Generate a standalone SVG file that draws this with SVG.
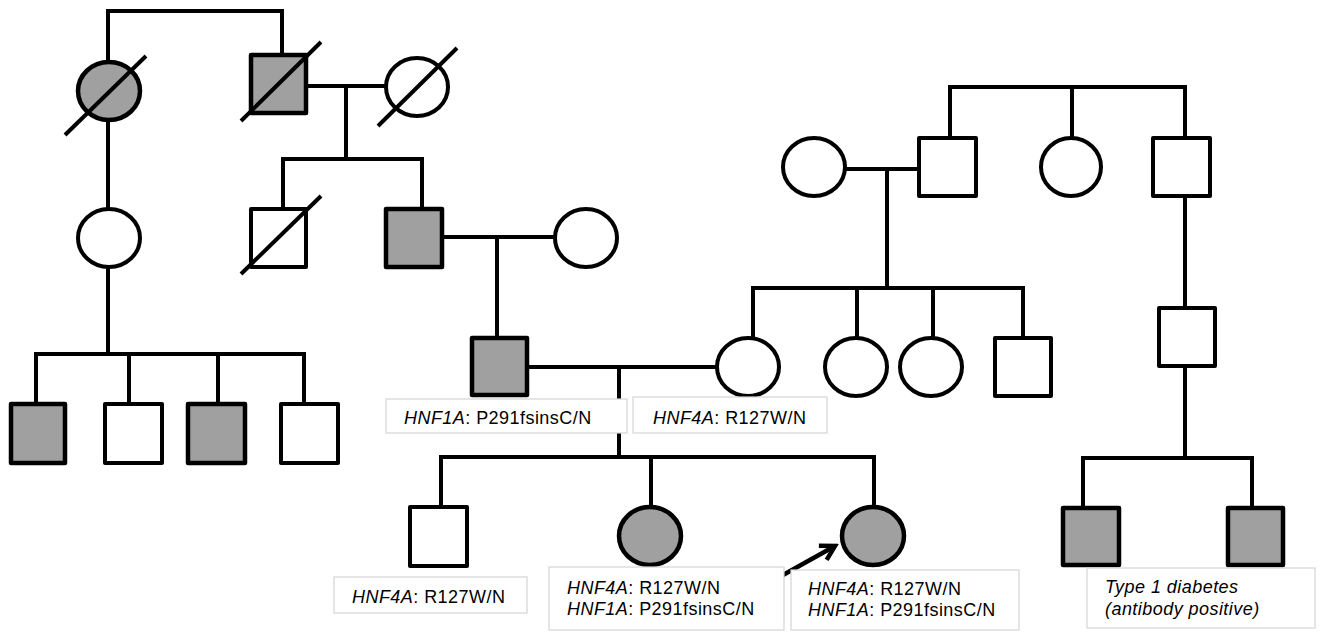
<svg xmlns="http://www.w3.org/2000/svg" width="1337" height="633" viewBox="0 0 1337 633">
<style>
.n{stroke:#000;stroke-width:4;fill:#fff;stroke-linejoin:round}
.a{fill:#a0a0a0;stroke-width:4.5}
.s{stroke:#000;stroke-width:4;fill:none}
.c{stroke:#000;stroke-width:4;fill:none;stroke-linejoin:miter}
.box{fill:#fff;stroke:#d4d4d4;stroke-width:1.2}
.t{font-family:"Liberation Sans",Arial,sans-serif;font-size:18px;fill:#000;letter-spacing:0.45px}
.i{font-style:italic}
</style>
<defs>
<marker id="arr" markerUnits="userSpaceOnUse" viewBox="0 0 22 22" refX="18" refY="11" markerWidth="22" markerHeight="22" orient="auto">
<path d="M4,3 L18,11 L4,19" fill="none" stroke="#000" stroke-width="4.5"/>
</marker>
</defs>
<rect width="1337" height="633" fill="#fff"/>
<g id="connectors">
<path class="c" d="M108,62 V11 H282 V55"/>
<path class="c" d="M306,86 H387"/>
<path class="c" d="M346,86 V159"/>
<path class="c" d="M283,209 V159 H422 V209"/>
<path class="c" d="M108,120 V209"/>
<path class="c" d="M108,267 V354"/>
<path class="c" d="M36,404 V354 H304 V404 M129,354 V404 M218,354 V404"/>
<path class="c" d="M442,237 H555"/>
<path class="c" d="M497,237 V338"/>
<path class="c" d="M527,367 H717"/>
<path class="c" d="M619,367 V457"/>
<path class="c" d="M441,507 V457 H874 V507 M651,457 V507"/>
<path class="c" d="M845,169 H919"/>
<path class="c" d="M887,169 V288"/>
<path class="c" d="M753,338 V288 H1023 V338 M857,288 V338 M933,288 V338"/>
<path class="c" d="M950,138 V87 H1185 V138 M1072,87 V138"/>
<path class="c" d="M1185,196 V308"/>
<path class="c" d="M1185,366 V458"/>
<path class="c" d="M1083,508 V458 H1252 V508"/>
<line x1="783" y1="575" x2="835" y2="546" stroke="#000" stroke-width="4.5" marker-end="url(#arr)"/>
</g>
<g id="I-1"><ellipse class="n a" cx="109" cy="91" rx="31" ry="29"/><line class="s" x1="65" y1="135" x2="146" y2="56"/></g>
<g id="I-2"><rect class="n a" x="251" y="55" width="55" height="58"/><line class="s" x1="241" y1="121" x2="321" y2="42"/></g>
<g id="I-3"><ellipse class="n" cx="417" cy="87" rx="31" ry="29"/><line class="s" x1="378" y1="126" x2="457" y2="48"/></g>
<g id="II-1"><ellipse class="n" cx="109" cy="238" rx="31" ry="29"/></g>
<g id="II-2"><rect class="n" x="251" y="209" width="55" height="58"/><line class="s" x1="241" y1="274" x2="321" y2="196"/></g>
<g id="II-3"><rect class="n a" x="386" y="209" width="56" height="58"/></g>
<g id="II-4"><ellipse class="n" cx="586" cy="238" rx="31" ry="29"/></g>
<g id="III-1"><rect class="n a" x="11" y="404" width="54" height="59"/></g>
<g id="III-2"><rect class="n" x="105" y="404" width="57" height="59"/></g>
<g id="III-3"><rect class="n a" x="188" y="404" width="57" height="59"/></g>
<g id="III-4"><rect class="n" x="281" y="404" width="57" height="59"/></g>
<g id="III-5"><rect class="n a" x="472" y="338" width="55" height="57"/></g>
<g id="III-6"><ellipse class="n" cx="748" cy="367" rx="31" ry="29"/></g>
<g id="III-7"><ellipse class="n" cx="856" cy="367" rx="31" ry="29"/></g>
<g id="III-8"><ellipse class="n" cx="931" cy="367" rx="31" ry="29"/></g>
<g id="III-9"><rect class="n" x="995" y="338" width="56" height="58"/></g>
<g id="II-5"><ellipse class="n" cx="814" cy="167" rx="31" ry="29"/></g>
<g id="II-6"><rect class="n" x="919" y="138" width="57" height="58"/></g>
<g id="II-7"><ellipse class="n" cx="1071" cy="167" rx="30" ry="29"/></g>
<g id="II-8"><rect class="n" x="1153" y="138" width="57" height="58"/></g>
<g id="III-10"><rect class="n" x="1159" y="308" width="56" height="58"/></g>
<g id="IV-1"><rect class="n" x="410" y="507" width="57" height="59"/></g>
<g id="IV-2"><ellipse class="n a" cx="650" cy="536" rx="31" ry="29"/></g>
<g id="IV-3"><ellipse class="n a" cx="873" cy="536" rx="31" ry="29"/></g>
<g id="IV-4"><rect class="n a" x="1063" y="508" width="56" height="57"/></g>
<g id="IV-5"><rect class="n a" x="1228" y="508" width="55" height="57"/></g>
<g id="label-III-5"><rect class="box" x="386" y="399" width="241" height="34"/><text class="t" x="404" y="424"><tspan class="i">HNF1A</tspan>: P291fsinsC/N</text></g>
<g id="label-III-6"><rect class="box" x="633" y="397" width="194" height="36"/><text class="t" x="653" y="424"><tspan class="i">HNF4A</tspan>: R127W/N</text></g>
<g id="label-IV-1"><rect class="box" x="334" y="577" width="193" height="36"/><text class="t" x="352" y="603"><tspan class="i">HNF4A</tspan>: R127W/N</text></g>
<g id="label-IV-2"><rect class="box" x="549" y="567" width="235" height="63"/><text class="t" x="567" y="594"><tspan class="i">HNF4A</tspan>: R127W/N</text><text class="t" x="567" y="615"><tspan class="i">HNF1A</tspan>: P291fsinsC/N</text></g>
<g id="label-IV-3"><rect class="box" x="791" y="570" width="228" height="60"/><text class="t" x="808" y="595"><tspan class="i">HNF4A</tspan>: R127W/N</text><text class="t" x="808" y="616"><tspan class="i">HNF1A</tspan>: P291fsinsC/N</text></g>
<g id="label-IV-45"><rect class="box" x="1087" y="568" width="228" height="60"/><text class="t i" x="1105" y="593">Type 1 diabetes</text><text class="t i" x="1105" y="615">(antibody positive)</text></g>
</svg>
